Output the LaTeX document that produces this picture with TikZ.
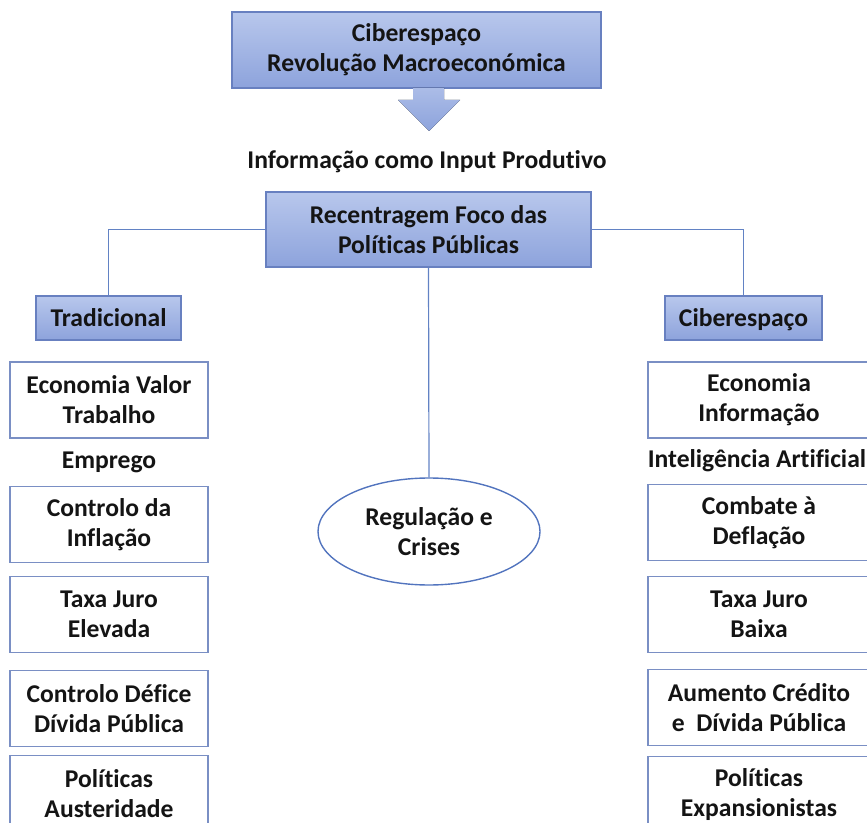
\documentclass[tikz,border=0pt]{standalone}
\usepackage{fontspec}
\setmainfont[Ligatures=NoCommon]{Carlito}
\usepackage{xcolor}
\usepackage{tikz}
\usetikzlibrary{positioning, calc, shapes.geometric}

\definecolor{boxtop}{RGB}{184,199,236}
\definecolor{boxbot}{RGB}{141,163,220}
\definecolor{boxline}{RGB}{104,128,192}
\definecolor{linkblue}{RGB}{98,130,196}
\definecolor{cellline}{RGB}{122,143,196}
\definecolor{ellline}{RGB}{82,116,190}

\begin{document}
\begin{tikzpicture}[
    x=0.5pt, y=-0.5pt,
    txt/.style={font=\bfseries\fontsize{12.8}{15}\selectfont, text=black!92, align=center},
    hdrbox/.style={txt, rectangle, draw=boxline, top color=boxtop, bottom color=boxbot, line width=0.6pt, inner sep=0pt},
    tabbox/.style={hdrbox, minimum height=22pt, text height=2.25ex, text depth=0.45ex},
    cellbox/.style={txt, rectangle, draw=cellline, line width=0.6pt, minimum width=99pt, minimum height=38pt, inner sep=0pt},
    rcellbox/.style={cellbox, minimum width=111pt},
    link/.style={draw=linkblue, line width=0.6pt},
]
\useasboundingbox (0,0) rectangle (867,823);

\node[hdrbox, minimum width=184.5pt, minimum height=38pt] (top) at (416.5,50) {Ciberespaço\\Revolução Macroeconómica};
\coordinate (arrtail) at (429,88);
\fill[top color=boxtop!70!boxbot, bottom color=boxbot]
    ($(arrtail)+(-16,0)$) -- ++(31,0) -- ++(0,12) -- ++(16,0) -- ($(arrtail)+(0,43)$)
    -- ($(arrtail)+(-31,12)$) -- ++(15,0) -- cycle;

\node[txt] (info) at (427,162) {Informação como Input Produtivo};

\node[hdrbox, minimum width=162.5pt, minimum height=37.5pt] (focus) at (428.5,229.5) {Recentragem Foco das\\Políticas Públicas};

\node[tabbox, minimum width=72.5pt] (trad) at (108.5,318) {Tradicional};
\node[tabbox, minimum width=78.5pt] (ciber) at (743.5,318) {Ciberespaço};

\draw[link] (focus.west) -| (trad.north);
\draw[link] (focus.east) -| (ciber.north);

\node[txt, ellipse, draw=ellline, line width=0.7pt, minimum width=111pt, minimum height=53.5pt, inner sep=0pt] (crise) at (429,531.5) {Regulação e\\Crises};
\draw[link] (focus.south) -- (crise.north);

% coluna tradicional
\node[cellbox] (l1) at (109,400) {Economia Valor\\Trabalho};
\node[cellbox, below=23.5pt of l1] (l2) {Controlo da\\Inflação};
\node[txt] (emprego) at ($(l1.south)!0.5!(l2.north)$) {Emprego};
\node[cellbox, below=6.5pt of l2] (l3) {Taxa Juro\\Elevada};
\node[cellbox, below=8.5pt of l3] (l4) {Controlo Défice\\Dívida Pública};
\node[cellbox, below=4pt of l4] (l5) {Políticas\\Austeridade};

% coluna ciberespaco
\node[rcellbox] (r1) at (759,400) {Economia\\Informação};
\node[rcellbox, below=22.5pt of r1] (r2) {Combate à\\Deflação};
\node[txt] (ia) at ($(r1.south)!0.5!(r2.north) + (-2,0)$) {Inteligência Artificial};
\node[rcellbox, below=7.5pt of r2] (r3) {Taxa Juro\\Baixa};
\node[rcellbox, below=8pt of r3] (r4) {Aumento Crédito\\e~~Dívida Pública};
\node[rcellbox, below=5pt of r4] (r5) {Políticas\\Expansionistas};

\end{tikzpicture}
\end{document}
